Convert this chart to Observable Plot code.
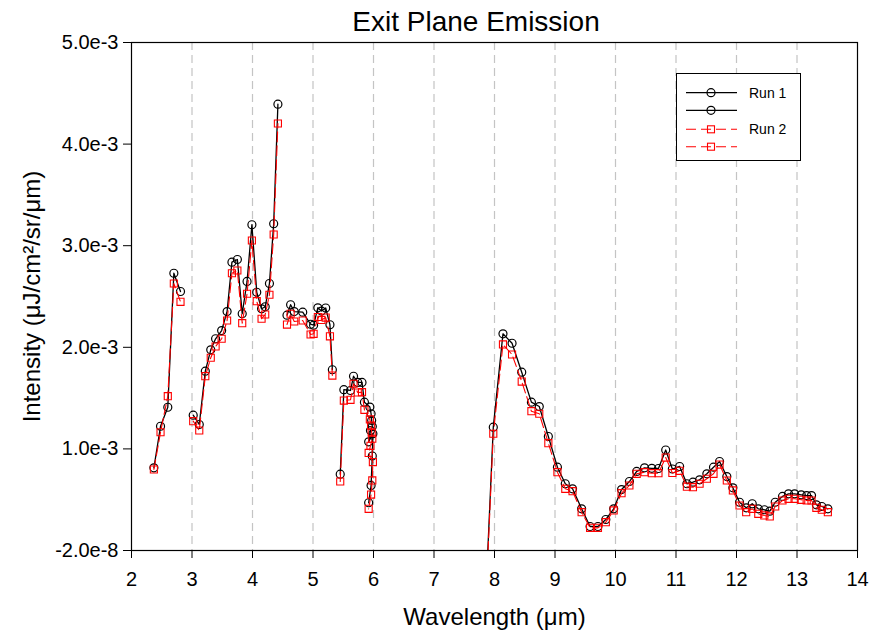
<!DOCTYPE html>
<html><head><meta charset="utf-8">
<script src="https://cdn.jsdelivr.net/npm/d3@7"></script>
<script src="https://cdn.jsdelivr.net/npm/@observablehq/plot@0.6"></script>
<style>
body{margin:0;background:#fff;font-family:"Liberation Sans",Arial,sans-serif;}
#wrap{position:relative;width:871px;height:632px;overflow:hidden;}
#title{position:absolute;left:276px;width:400px;top:8px;text-align:center;font-size:28px;line-height:28px;color:#000;}
#legend{position:absolute;left:676px;top:73px;width:125px;height:88px;box-sizing:border-box;border:1px solid #000;background:#fff;}
#legend svg{display:block;}
</style></head>
<body>
<div id="wrap">
<div id="chart"></div>
<div id="title">Exit Plane Emission</div>
<div id="legend"></div>
</div>
<script>
// x values (µm); null marks a gap between separately drawn segments
const wavelength = [
  2.37, 2.48, 2.60, 2.70, 2.81, null,
  3.02, 3.12, 3.22, 3.31, 3.39, 3.49, 3.58, 3.66, 3.75, 3.83, 3.91, 3.99, 4.07, 4.15, 4.21, 4.28, 4.35, 4.42, null,
  4.57, 4.63, 4.69, 4.83, 4.96, 5.01, 5.08, 5.14, 5.21, 5.28, 5.32, null,
  5.45, 5.51, 5.62, 5.67, 5.74, 5.81, 5.85, 5.94, 5.96, 5.97, 5.98, 5.95, 5.92, 5.99, 5.98, 5.96, 5.92, null,
  7.80, 7.98, 8.14, 8.29, 8.45, 8.61, 8.74, 8.89, 9.04, 9.17, 9.29, 9.44, 9.58, 9.71, 9.84, 9.97,
  10.10, 10.23, 10.35, 10.48, 10.60, 10.71, 10.83, 10.94, 11.06, 11.18, 11.28, 11.39, 11.51, 11.62, 11.72, 11.84, 11.94,
  12.05, 12.16, 12.26, 12.36, 12.46, 12.55, 12.64, 12.76, 12.86, 12.96, 13.07, 13.16, 13.24, 13.32, 13.41, 13.51
];
const run1 = [
  8.14e-4, 1.223e-3, 1.410e-3, 2.729e-3, 2.549e-3, null,
  1.332e-3, 1.240e-3, 1.765e-3, 1.975e-3, 2.084e-3, 2.165e-3, 2.352e-3, 2.838e-3, 2.864e-3, 2.330e-3, 2.648e-3, 3.206e-3, 2.542e-3, 2.379e-3, 2.399e-3, 2.628e-3, 3.216e-3, 4.393e-3, null,
  2.316e-3, 2.419e-3, 2.352e-3, 2.346e-3, 2.227e-3, 2.218e-3, 2.389e-3, 2.357e-3, 2.387e-3, 2.222e-3, 1.779e-3, null,
  7.51e-4, 1.583e-3, 1.575e-3, 1.715e-3, 1.654e-3, 1.654e-3, 1.460e-3, 1.412e-3, 1.346e-3, 1.28e-3, 1.22e-3, 1.18e-3, 1.07e-3, 1.15e-3, 0.93e-3, 0.64e-3, 0.47e-3, null,
  -1.2e-3, 1.214e-3, 2.133e-3, 2.040e-3, 1.755e-3, 1.460e-3, 1.417e-3, 1.122e-3, 8.20e-4, 6.57e-4, 6.07e-4, 4.10e-4, 2.36e-4, 2.36e-4, 3.05e-4, 4.10e-4,
  6.00e-4, 6.79e-4, 7.78e-4, 8.14e-4, 8.09e-4, 8.07e-4, 9.89e-4, 8.02e-4, 8.27e-4, 6.57e-4, 6.72e-4, 6.96e-4, 7.55e-4, 8.20e-4, 8.76e-4, 7.28e-4, 6.17e-4,
  4.75e-4, 4.20e-4, 4.60e-4, 4.10e-4, 4.01e-4, 3.87e-4, 4.75e-4, 5.32e-4, 5.58e-4, 5.58e-4, 5.48e-4, 5.41e-4, 5.41e-4, 4.50e-4, 4.33e-4, 4.10e-4
];
const run2 = [
  7.97e-4, 1.164e-3, 1.519e-3, 2.628e-3, 2.448e-3, null,
  1.273e-3, 1.181e-3, 1.716e-3, 1.897e-3, 2.008e-3, 2.084e-3, 2.264e-3, 2.729e-3, 2.756e-3, 2.237e-3, 2.527e-3, 3.051e-3, 2.454e-3, 2.281e-3, 2.323e-3, 2.517e-3, 3.110e-3, 4.203e-3, null,
  2.224e-3, 2.330e-3, 2.254e-3, 2.264e-3, 2.126e-3, 2.133e-3, 2.298e-3, 2.269e-3, 2.293e-3, 2.108e-3, 1.722e-3, null,
  6.79e-4, 1.476e-3, 1.483e-3, 1.641e-3, 1.555e-3, 1.558e-3, 1.385e-3, 1.29e-3, 1.23e-3, 1.16e-3, 1.10e-3, 1.03e-3, 0.96e-3, 0.87e-3, 0.69e-3, 0.55e-3, 0.41e-3, null,
  -1.25e-3, 1.149e-3, 2.028e-3, 1.929e-3, 1.663e-3, 1.371e-3, 1.346e-3, 1.056e-3, 7.71e-4, 6.07e-4, 5.84e-4, 3.77e-4, 2.23e-4, 2.23e-4, 2.79e-4, 3.94e-4,
  5.64e-4, 6.40e-4, 7.55e-4, 7.71e-4, 7.61e-4, 7.61e-4, 9.15e-4, 7.63e-4, 7.84e-4, 6.28e-4, 6.23e-4, 6.57e-4, 7.06e-4, 7.55e-4, 8.46e-4, 6.89e-4, 5.91e-4,
  4.43e-4, 3.77e-4, 4.10e-4, 3.61e-4, 3.45e-4, 3.35e-4, 4.33e-4, 4.92e-4, 5.09e-4, 5.09e-4, 4.99e-4, 4.92e-4, 4.92e-4, 4.20e-4, 4.01e-4, 3.77e-4
];
const xTicks = [2, 3, 4, 5, 6, 7, 8, 9, 10, 11, 12, 13, 14];
const yTickValues = [-2e-8, 1e-3, 2e-3, 3e-3, 4e-3, 5e-3];
const yTickLabels = ["-2.0e-8", "1.0e-3", "2.0e-3", "3.0e-3", "4.0e-3", "5.0e-3"];
const seriesNames = ["Run 1", "Run 2"];
const xLabel = "Wavelength (\u03bcm)";
const yLabel = "Intensity (\u03bcJ/cm\u00b2/sr/\u03bcm)";

const table = wavelength.map((x, i) => ({x, run1: run1[i], run2: run2[i]}));

const plot = Plot.plot({
  width: 871,
  height: 632,
  marginTop: 42,
  marginBottom: 82,
  marginLeft: 131,
  marginRight: 14,
  style: {fontFamily: '"Liberation Sans", Arial, sans-serif', fontSize: "20px", color: "#000", background: "#fff", overflow: "visible"},
  x: {domain: [2, 14], ticks: xTicks, tickSize: 8, tickPadding: 13, tickFormat: d => String(d), label: null},
  y: {domain: [-2e-8, 5e-3], ticks: yTickValues, tickSize: 8, tickPadding: 5,
      tickFormat: d => yTickLabels[yTickValues.indexOf(d)], label: null},
  marks: [
    Plot.ruleX(xTicks.slice(1, -1), {stroke: "#c4c4c4", strokeWidth: 1.2, strokeDasharray: "8,5"}),
    Plot.line(table, {x: "x", y: "run1", stroke: "#000", strokeWidth: 1.3, clip: true}),
    Plot.dot(table, {x: "x", y: "run1", r: 4, stroke: "#000", strokeWidth: 1.2, fill: "none", clip: true}),
    Plot.line(table, {x: "x", y: "run2", stroke: "#ff0000", strokeWidth: 1.1, strokeDasharray: "10,4", clip: true}),
    Plot.dot(table, {x: "x", y: "run2", r: 4, symbol: "square", stroke: "#ff0000", strokeWidth: 1.1, fill: "none", clip: true}),
    Plot.frame({stroke: "#000", strokeWidth: 1.2}),
    Plot.text([xLabel], {text: d => d, frameAnchor: "bottom", textAnchor: "middle", lineAnchor: "middle", dy: 67, fontSize: 24}),
    Plot.text([yLabel], {text: d => d, frameAnchor: "left", textAnchor: "middle", lineAnchor: "middle", dx: -99, rotate: -90, fontSize: 24})
  ]
});
document.getElementById("chart").appendChild(plot);

// legend (SigmaPlot style: two sample rows per series)
const rows = [
  {name: seriesNames[0], kind: "run1"},
  {name: null, kind: "run1"},
  {name: seriesNames[1], kind: "run2"},
  {name: null, kind: "run2"}
];
const rowY = [18.7, 36.3, 55.3, 72.7];
let s = '<svg width="123" height="86" xmlns="http://www.w3.org/2000/svg" style="font-family:\'Liberation Sans\',Arial,sans-serif;font-size:14px">';
rows.forEach((r, i) => {
  const y = rowY[i];
  if (r.kind === "run1") {
    s += `<line x1="9" x2="60" y1="${y}" y2="${y}" stroke="#000" stroke-width="1.3"/>`;
    s += `<circle cx="34" cy="${y}" r="4" fill="none" stroke="#000" stroke-width="1.2"/>`;
  } else {
    s += `<line x1="9" x2="60" y1="${y}" y2="${y}" stroke="#ff0000" stroke-width="1.1" stroke-dasharray="10,5"/>`;
    s += `<rect x="30.5" y="${y - 3.5}" width="7" height="7" fill="none" stroke="#ff0000" stroke-width="1.1"/>`;
  }
  if (r.name) s += `<text x="72" y="${y}" dy="0.35em" fill="#000">${r.name}</text>`;
});
s += '</svg>';
document.getElementById("legend").innerHTML = s;
</script>
</body></html>
